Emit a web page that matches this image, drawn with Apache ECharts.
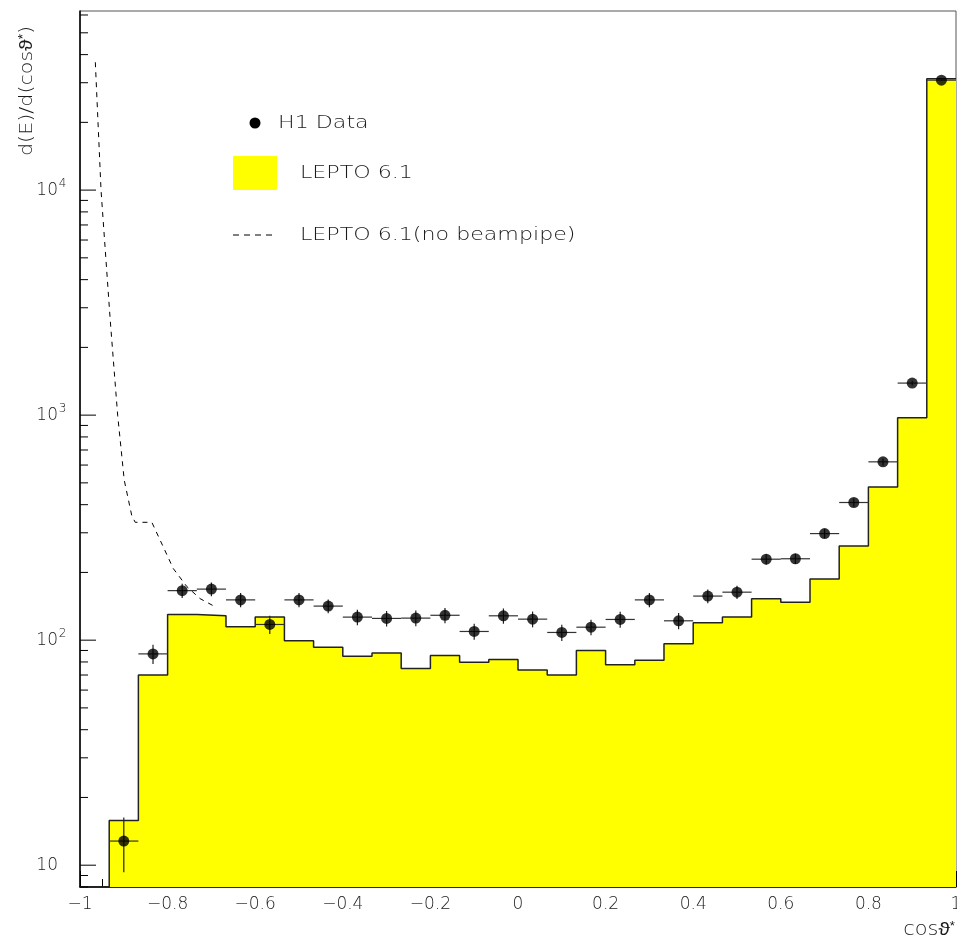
<!DOCTYPE html>
<html><head><meta charset="utf-8">
<script src="https://cdn.jsdelivr.net/npm/echarts@6/dist/echarts.min.js"></script>
<style>html,body{margin:0;padding:0;background:#fff}#c{width:957px;height:942px}</style>
</head><body><div id="c"></div>
<script>
// ---- data ----
const binEdges = [-1, -0.9333, -0.8667, -0.8, -0.7333, -0.6667, -0.6, -0.5333, -0.4667, -0.4,
  -0.3333, -0.2667, -0.2, -0.1333, -0.0667, 0, 0.0667, 0.1333, 0.2, 0.2667,
  0.3333, 0.4, 0.4667, 0.5333, 0.6, 0.6667, 0.7333, 0.8, 0.8667, 0.9333, 1];
const binCenters = [-0.9667, -0.9, -0.8333, -0.7667, -0.7, -0.6333, -0.5667, -0.5, -0.4333, -0.3667,
  -0.3, -0.2333, -0.1667, -0.1, -0.0333, 0.0333, 0.1, 0.1667, 0.2333, 0.3,
  0.3667, 0.4333, 0.5, 0.5667, 0.6333, 0.7, 0.7667, 0.8333, 0.9, 0.9667];
const leptoValues = [0, 15.8, 70, 130, 128.3, 114.6, 126.7, 99.5, 93, 84.9,
  87.8, 74.8, 85.5, 79.8, 82, 73.6, 70, 90, 77.7, 81.5,
  96.3, 119.4, 126.6, 152.7, 147.5, 187.2, 262.4, 479.5, 973, 31250];
const h1Values = [null, 12.8, 86.9, 166, 168.6, 151, 117.4, 151, 141.7, 126.6,
  124.9, 125.3, 129, 109.3, 128.3, 124, 108.2, 114.2, 123.6, 151,
  121.9, 157, 163.4, 229, 230, 297.6, 409, 620, 1388, 30800];
const h1Errors = [null, 3.5, 8.5, 12, 12, 11, 11, 11, 10, 10,
  10, 10, 10, 9, 10, 10, 9, 9, 10, 11,
  10, 11, 11, 12, 12, 14, 17, 22, 35, 150];
const noBeampipeX = [-0.965, -0.952, -0.931, -0.914, -0.899, -0.882, -0.874, -0.836, -0.81, -0.787, -0.756, -0.726, -0.695];
const noBeampipeY = [37000, 10000, 2644, 1000, 514, 359, 334, 334, 260, 208, 173, 153, 142];
const xTickLabels = ['-1', '-0.8', '-0.6', '-0.4', '-0.2', '0', '0.2', '0.4', '0.6', '0.8', '1'];
const yMajorTicks = [10, 100, 1000, 10000];
const yMinorTicks = [8, 9, 20, 30, 40, 50, 60, 70, 80, 90, 200, 300, 400, 500, 600, 700, 800, 900,
  2000, 3000, 4000, 5000, 6000, 7000, 8000, 9000, 20000, 30000, 40000, 50000, 60000];
const legendNames = ['H1 Data', 'LEPTO 6.1', 'LEPTO 6.1(no beampipe)'];

// ---- layout / style ----
const X_MIN = -1, X_MAX = 1, Y_MIN = 8, Y_MAX = 62500;
const FONT = "'DejaVu Sans', sans-serif";
const FW = 200;
const TXT = '#1a1a1a';

const histData = binEdges.slice(0, -1).map((e, i) => [e, leptoValues[i] > 0 ? leptoValues[i] : Y_MIN]);
histData.push([binEdges[binEdges.length - 1], leptoValues[leptoValues.length - 1]]);

const pts = [], errs = [];
h1Values.forEach((v, i) => {
  if (v == null) return;
  pts.push([binCenters[i], v]);
  errs.push([binCenters[i], v, h1Errors[i], binEdges[i], binEdges[i + 1]]);
});

const chart = echarts.init(document.getElementById('c'));
chart.setOption({
  animation: false,
  backgroundColor: '#fff',
  grid: { left: 80, right: 1, top: 11, bottom: 55, show: true, borderColor: '#555', borderWidth: 1,
    containLabel: false, outerBoundsMode: 'none' },
  xAxis: {
    type: 'value', min: X_MIN, max: X_MAX, interval: 0.2,
    splitLine: { show: false },
    axisLine: { onZero: false, lineStyle: { color: '#000', width: 1.5 } },
    axisTick: { inside: true, length: 16, lineStyle: { color: '#000' } },
    minorTick: { show: true, splitNumber: 4, length: 8, lineStyle: { color: '#000' } },
    axisLabel: {
      margin: 9, fontSize: 17, fontFamily: FONT, fontWeight: FW, color: TXT, hideOverlap: false,
      formatter: v => {
        const s = String(+v.toFixed(1));
        const hit = xTickLabels.find(t => +t === +s);
        return hit ? hit.replace('-', '\u2212') : '';
      }
    }
  },
  yAxis: {
    type: 'log', logBase: 10, min: Y_MIN, max: Y_MAX,
    splitLine: { show: false },
    axisLine: { onZero: false, lineStyle: { color: '#000', width: 1.5 } },
    axisTick: { show: false },
    axisLabel: {
      margin: 13, fontFamily: FONT, fontWeight: FW, color: TXT, showMinLabel: false, showMaxLabel: false,
      formatter: v => {
        const l = Math.log10(v), e = Math.round(l);
        if (Math.abs(l - e) > 1e-6 || !yMajorTicks.includes(Math.pow(10, e))) return '';
        return '{b|10}{s|' + (e === 1 ? ' ' : e) + '}';
      },
      rich: {
        b: { fontSize: 17, fontFamily: FONT, fontWeight: FW, color: TXT, lineHeight: 24 },
        s: { fontSize: 12, fontFamily: FONT, fontWeight: FW, color: TXT, width: 9, align: 'left', verticalAlign: 'top', lineHeight: 12 }
      }
    }
  },
  series: [
    {
      type: 'line', name: legendNames[1], step: 'end', data: histData, symbol: 'none',
      lineStyle: { color: '#222', width: 1.5 },
      areaStyle: { color: '#ffff00', opacity: 1, origin: 'start' },
      z: 2
    },
    {
      type: 'line', name: legendNames[2], data: noBeampipeX.map((x, i) => [x, noBeampipeY[i]]), symbol: 'none',
      lineStyle: { color: '#000', width: 1, type: [5, 5] }, z: 3
    },
    {
      type: 'custom', name: 'errors', data: errs, z: 4, clip: false,
      renderItem: (params, api) => {
        const c = api.value(0), v = api.value(1), e = api.value(2), lo = api.value(3), hi = api.value(4);
        const a = api.coord([lo, v]), b = api.coord([hi, v]);
        const t = api.coord([c, v + e]), d = api.coord([c, Math.max(v - e, Y_MIN)]);
        return { type: 'group', children: [
          { type: 'line', shape: { x1: a[0], y1: a[1], x2: b[0], y2: b[1] }, style: { stroke: '#333', lineWidth: 1.2 } },
          { type: 'line', shape: { x1: t[0], y1: t[1], x2: d[0], y2: d[1] }, style: { stroke: '#222', lineWidth: 1.2 } }
        ] };
      }
    },
    {
      type: 'scatter', name: legendNames[0], data: pts, symbol: 'circle', symbolSize: 11,
      itemStyle: { color: '#000' }, z: 5
    },
    {
      type: 'custom', name: 'yticks', z: 6, clip: false, silent: true,
      data: yMajorTicks.map(v => [v, 16]).concat(yMinorTicks.map(v => [v, 8])),
      renderItem: (params, api) => {
        const p = api.coord([X_MIN, api.value(0)]);
        const len = api.value(1);
        return { type: 'line', shape: { x1: p[0], y1: p[1], x2: p[0] + len, y2: p[1] }, style: { stroke: '#000', lineWidth: 1 } };
      },
      encode: { x: -1, y: 0 }
    }
  ],
  graphic: [
    { type: 'text', x: 27, y: 91, rotation: Math.PI / 2, scaleX: 1.15,
      style: { text: 'd(E)/d(cos\u03d1{s|*})', font: FW + ' 18px ' + FONT, fill: TXT, align: 'center', verticalAlign: 'middle',
        rich: { s: { fontSize: 12, fontWeight: FW, verticalAlign: 'top', fill: TXT } } } },
    { type: 'text', x: 955, y: 930, scaleX: 1.1, originX: 0,
      style: { text: 'cos\u03d1{s|*}', font: FW + ' 19px ' + FONT, fill: TXT, align: 'right', verticalAlign: 'middle',
        rich: { s: { fontSize: 12, fontWeight: FW, verticalAlign: 'top', fill: TXT } } } },
    { type: 'circle', shape: { cx: 255, cy: 123, r: 5.5 }, style: { fill: '#000' } },
    { type: 'text', x: 278, y: 123, scaleX: 1.23, style: { text: legendNames[0], font: FW + ' 18px ' + FONT, fill: TXT, verticalAlign: 'middle' } },
    { type: 'rect', shape: { x: 233, y: 156, width: 44, height: 34 }, style: { fill: '#ffff00' } },
    { type: 'text', x: 300, y: 173, scaleX: 1.23, style: { text: legendNames[1], font: FW + ' 18px ' + FONT, fill: TXT, verticalAlign: 'middle' } },
    { type: 'line', shape: { x1: 233, y1: 235, x2: 275, y2: 235 }, style: { stroke: '#000', lineWidth: 1, lineDash: [6, 5] } },
    { type: 'text', x: 300, y: 235, scaleX: 1.23, style: { text: legendNames[2], font: FW + ' 18px ' + FONT, fill: TXT, verticalAlign: 'middle' } }
  ]
});
</script></body></html>
